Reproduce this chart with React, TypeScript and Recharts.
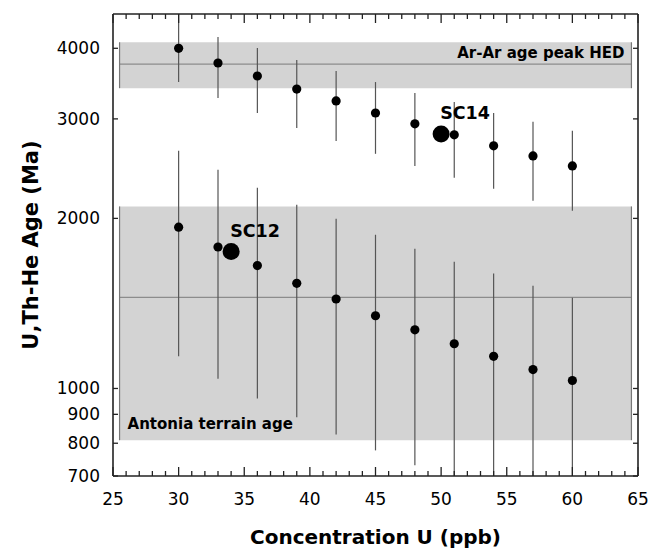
import React from "react";
import {
  ComposedChart,
  Scatter,
  XAxis,
  YAxis,
  ErrorBar,
  ReferenceArea,
  ReferenceLine,
  Label,
} from "recharts";

const concentrations = [30, 33, 36, 39, 42, 45, 48, 51, 54, 57, 60];

const oldAge = [4000, 3767, 3573, 3388, 3228, 3073, 2940, 2811, 2688, 2580, 2477];
const oldLow = [3486, 3267, 3073, 2890, 2742, 2602, 2477, 2360, 2256, 2148, 2063];
const oldHigh = [4600, 4188, 4004, 3813, 3646, 3486, 3333, 3214, 3073, 2964, 2857];

const youngAge = [1930, 1780, 1650, 1535, 1440, 1345, 1270, 1200, 1140, 1080, 1033];
const youngLow = [1140, 1040, 960, 889, 829, 777, 731, 700, 700, 700, 700];
const youngHigh = [2634, 2438, 2266, 2114, 1997, 1871, 1767, 1676, 1597, 1520, 1448];

const sampleNames = ["SC12", "SC14"];
const sampleConc = [34, 50];
const sampleAge = [1747, 2822];

const bandNames = ["Ar-Ar age peak HED", "Antonia terrain age"];
const bandLow = [3400, 810];
const bandHigh = [4100, 2100];
const bandMid = [3750, 1450];
const bandStart = 25.5;
const bandEnd = 64.5;

const xTicks = Array.from({ length: 41 }, (_, i) => 25 + i);
const yTicks = [700, 800, 900, 1000, 2000, 3000, 4000];

const FONT = "DejaVu Sans, Arial, sans-serif";
const AXIS = "#222";

const toRows = (age: number[], low: number[], high: number[]) =>
  concentrations.map((c, i) => ({
    conc: c,
    age: age[i],
    err: [age[i] - low[i], high[i] - age[i]],
  }));

const oldRows = toRows(oldAge, oldLow, oldHigh);
const youngRows = toRows(youngAge, youngLow, youngHigh);
const sampleRows = sampleNames.map((n, i) => ({
  name: n,
  conc: sampleConc[i],
  age: sampleAge[i],
}));

const Dot = (p: any) => <circle cx={p.cx} cy={p.cy} r={4.6} fill="#000" />;
const NoDot = () => <g />;

const SampleDot = (p: any) => (
  <g>
    <circle cx={p.cx} cy={p.cy} r={8.5} fill="#000" />
    <text
      x={p.cx - 1}
      y={p.cy - 14.5}
      fontFamily={FONT}
      fontWeight="bold"
      fontSize={17.5}
      fill="#000"
    >
      {p.payload.name}
    </text>
  </g>
);

// the ticks sit inside the frame, like the original plot
const BottomTick = (p: any) => {
  const v = p.payload.value;
  const major = v % 5 === 0;
  return (
    <g>
      <line x1={p.x} x2={p.x} y1={p.y} y2={p.y - (major ? 9 : 5)} stroke={AXIS} strokeWidth={1.3} />
      {major && (
        <text x={p.x} y={p.y + 29} textAnchor="middle" fontFamily={FONT} fontSize={17} fill="#000">
          {v}
        </text>
      )}
    </g>
  );
};

const TopTick = (p: any) => {
  const major = p.payload.value % 5 === 0;
  return <line x1={p.x} x2={p.x} y1={p.y} y2={p.y + (major ? 9 : 5)} stroke={AXIS} strokeWidth={1.3} />;
};

const LeftTick = (p: any) => (
  <g>
    <line x1={p.x} x2={p.x + 5} y1={p.y} y2={p.y} stroke={AXIS} strokeWidth={1.3} />
    <text x={p.x - 13} y={p.y} dy={6} textAnchor="end" fontFamily={FONT} fontSize={17} fill="#000">
      {p.payload.value}
    </text>
  </g>
);

const RightTick = (p: any) => (
  <line x1={p.x} x2={p.x - 5} y1={p.y} y2={p.y} stroke={AXIS} strokeWidth={1.3} />
);

export default function App() {
  return (
    <div style={{ position: "absolute", left: 0, top: 0, background: "#fff" }}>
      <ComposedChart
        width={651}
        height={551}
        margin={{ top: 13, right: 12, bottom: 0, left: 0 }}
      >
        <XAxis
          dataKey="conc"
          type="number"
          domain={[25, 65]}
          ticks={xTicks}
          interval={0}
          allowDataOverflow
          height={75}
          tickSize={0}
          tickMargin={0}
          tickLine={false}
          tick={BottomTick}
          axisLine={{ stroke: AXIS, strokeWidth: 1.6 }}
        >
          <Label
            content={(lp: any) => {
              const vb = lp.viewBox;
              return (
                <text
                  x={vb.x + vb.width / 2}
                  y={vb.y + 68}
                  textAnchor="middle"
                  fontFamily={FONT}
                  fontWeight="bold"
                  fontSize={20}
                  fill="#000"
                >
                  Concentration U (ppb)
                </text>
              );
            }}
          />
        </XAxis>
        <XAxis
          xAxisId="top"
          orientation="top"
          dataKey="conc"
          type="number"
          domain={[25, 65]}
          ticks={xTicks}
          interval={0}
          allowDataOverflow
          height={1}
          tickSize={0}
          tickMargin={0}
          tickLine={false}
          tick={TopTick}
          axisLine={{ stroke: AXIS, strokeWidth: 1.6 }}
        />
        <YAxis
          dataKey="age"
          type="number"
          scale="log"
          domain={[700, 4600]}
          ticks={yTicks}
          interval={0}
          allowDataOverflow
          width={113}
          tickSize={0}
          tickMargin={0}
          tickLine={false}
          tick={LeftTick}
          axisLine={{ stroke: AXIS, strokeWidth: 1.6 }}
        >
          <Label
            content={(lp: any) => {
              const vb = lp.viewBox;
              const cx = vb.x + 31;
              const cy = vb.y + vb.height / 2;
              return (
                <text
                  x={cx}
                  y={cy}
                  transform={`rotate(-90, ${cx}, ${cy})`}
                  textAnchor="middle"
                  dominantBaseline="central"
                  fontFamily={FONT}
                  fontWeight="bold"
                  fontSize={21}
                  fill="#000"
                >
                  U,Th-He Age (Ma)
                </text>
              );
            }}
          />
        </YAxis>
        <YAxis
          yAxisId="right"
          orientation="right"
          dataKey="age"
          type="number"
          scale="log"
          domain={[700, 4600]}
          ticks={yTicks}
          interval={0}
          allowDataOverflow
          width={1}
          tickSize={0}
          tickMargin={0}
          tickLine={false}
          tick={RightTick}
          axisLine={{ stroke: AXIS, strokeWidth: 1.6 }}
        />

        {bandNames.map((name, i) => (
          <ReferenceArea
            key={`band-${i}`}
            x1={bandStart}
            x2={bandEnd}
            y1={bandLow[i]}
            y2={bandHigh[i]}
            fill="#d3d3d3"
            fillOpacity={1}
            stroke="none"
          >
            <Label
              content={(lp: any) => {
                const vb = lp.viewBox;
                const top = i === 0;
                return (
                  <text
                    x={top ? vb.x + vb.width - 7 : vb.x + 8}
                    y={top ? vb.y + 16 : vb.y + vb.height - 11}
                    textAnchor={top ? "end" : "start"}
                    fontFamily={FONT}
                    fontWeight="bold"
                    fontSize={15}
                    fill="#000"
                  >
                    {name}
                  </text>
                );
              }}
            />
          </ReferenceArea>
        ))}
        {bandNames.map((_, i) => (
          <ReferenceLine
            key={`mid-${i}`}
            segment={[
              { x: bandStart, y: bandMid[i] },
              { x: bandEnd, y: bandMid[i] },
            ]}
            stroke="#8c8c8c"
            strokeWidth={1.2}
          />
        ))}
        {bandNames.map((_, i) =>
          [bandStart, bandEnd].map((bx) => (
            <ReferenceLine
              key={`edge-${i}-${bx}`}
              segment={[
                { x: bx, y: bandLow[i] },
                { x: bx, y: bandHigh[i] },
              ]}
              stroke="#777"
              strokeWidth={1.2}
            />
          ))
        )}

        {/* invisible copy so the top and right frame axes get a series */}
        <Scatter
          data={sampleRows}
          dataKey="age"
          xAxisId="top"
          yAxisId="right"
          shape={NoDot}
          isAnimationActive={false}
        />
        <Scatter data={oldRows} dataKey="age" shape={Dot} isAnimationActive={false}>
          <ErrorBar dataKey="err" direction="y" width={0} stroke="#555" strokeWidth={1.2} />
        </Scatter>
        <Scatter data={youngRows} dataKey="age" shape={Dot} isAnimationActive={false}>
          <ErrorBar dataKey="err" direction="y" width={0} stroke="#555" strokeWidth={1.2} />
        </Scatter>
        <Scatter data={sampleRows} dataKey="age" shape={SampleDot} isAnimationActive={false} />
      </ComposedChart>
    </div>
  );
}
